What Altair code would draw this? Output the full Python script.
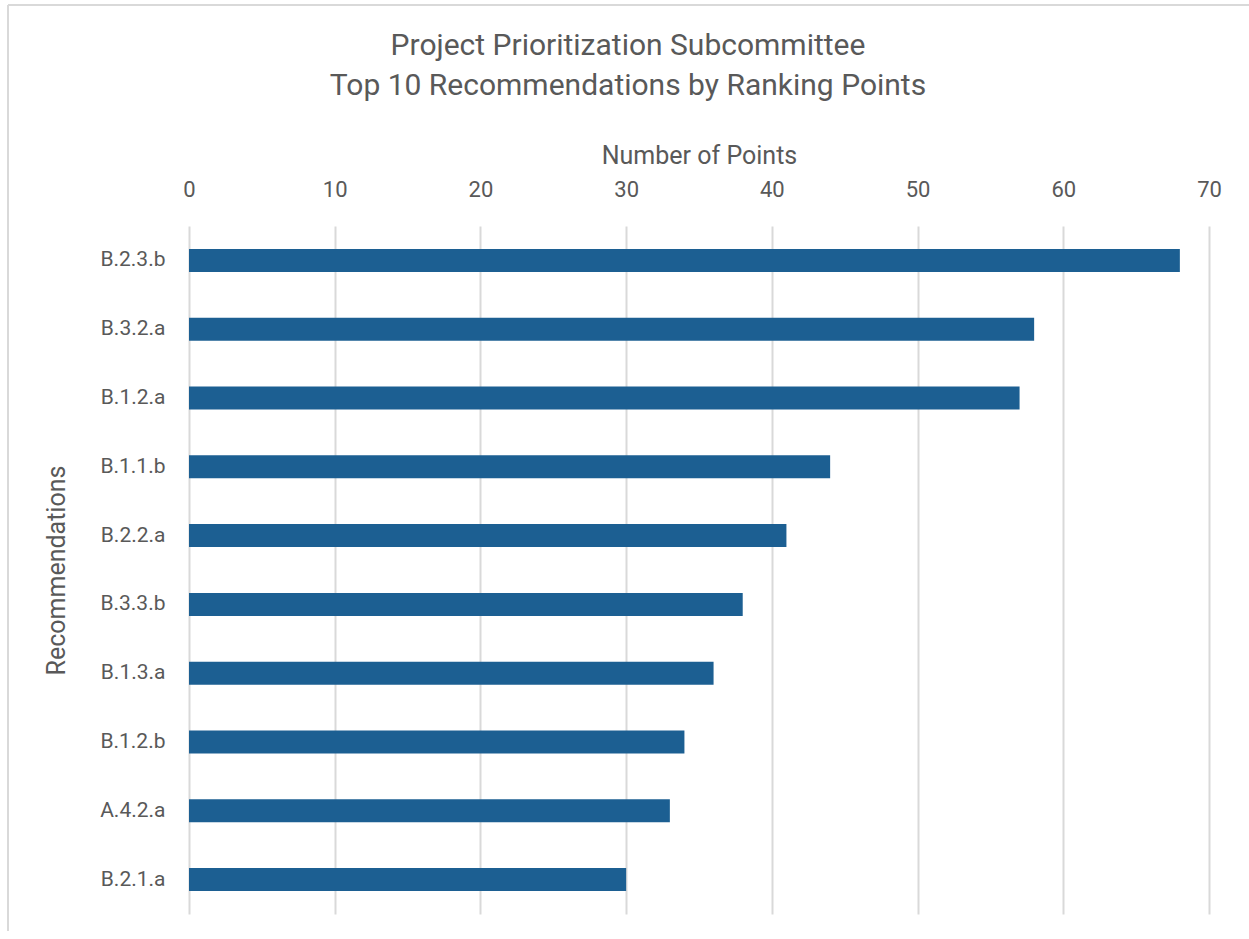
import altair as alt
import pandas as pd

recommendations = ["B.2.3.b", "B.3.2.a", "B.1.2.a", "B.1.1.b", "B.2.2.a",
                   "B.3.3.b", "B.1.3.a", "B.1.2.b", "A.4.2.a", "B.2.1.a"]
points = [68, 58, 57, 44, 41, 38, 36, 34, 33, 30]
tick_values = [0, 10, 20, 30, 40, 50, 60, 70]

df = pd.DataFrame({"Recommendation": recommendations, "Points": points})

FONT = "Roboto"
GRAY = "#595959"
LINE = "#d9d9d9"

bars = alt.Chart(df).mark_bar(size=23, color="#1c5f92").encode(
    x=alt.X("Points:Q",
            scale=alt.Scale(domain=[0, 70], nice=False),
            axis=alt.Axis(orient="top", values=tick_values, title="Number of Points",
                          grid=True, gridColor=LINE, gridWidth=2,
                          domain=False, ticks=False, tickSize=0, labelFlush=False,
                          labelPadding=25, labelFontSize=22, labelColor=GRAY,
                          labelFont=FONT, titleFont=FONT, titleFontSize=25,
                          titleFontWeight="normal", titleColor=GRAY, titlePadding=10)),
    y=alt.Y("Recommendation:N", sort=recommendations,
            axis=alt.Axis(title="Recommendations", domain=False, ticks=False, grid=False,
                          tickSize=0, labelPadding=24, labelFontSize=21,
                          labelColor=GRAY, labelFont=FONT, titleFont=FONT,
                          titleFontSize=25, titleFontWeight="normal",
                          titleColor=GRAY, titlePadding=30))
)

frame_left = alt.Chart(df).mark_rule(color=LINE, strokeWidth=2).encode(
    x=alt.value(-181), y=alt.value(-221), y2=alt.value(705))
frame_top = alt.Chart(df).mark_rule(color=LINE, strokeWidth=2).encode(
    x=alt.value(-181), x2=alt.value(1070), y=alt.value(-221))

chart = alt.layer(frame_left, frame_top, bars).properties(
    width=1020, height=688,
    title=alt.TitleParams(
        ["Project Prioritization Subcommittee", "Top 10 Recommendations by Ranking Points"],
        font=FONT, fontSize=30, fontWeight="normal", color=GRAY,
        lineHeight=40, anchor="middle", dx=-71, dy=107, offset=10),
    autosize=alt.AutoSizeParams(type="none"),
    padding={"left": 189, "top": 226, "right": 40, "bottom": 25},
).configure(background="white").configure_view(strokeWidth=0).configure_axis(domain=False)

chart.save("out.html", embed_options={"renderer": "svg", "actions": False})
